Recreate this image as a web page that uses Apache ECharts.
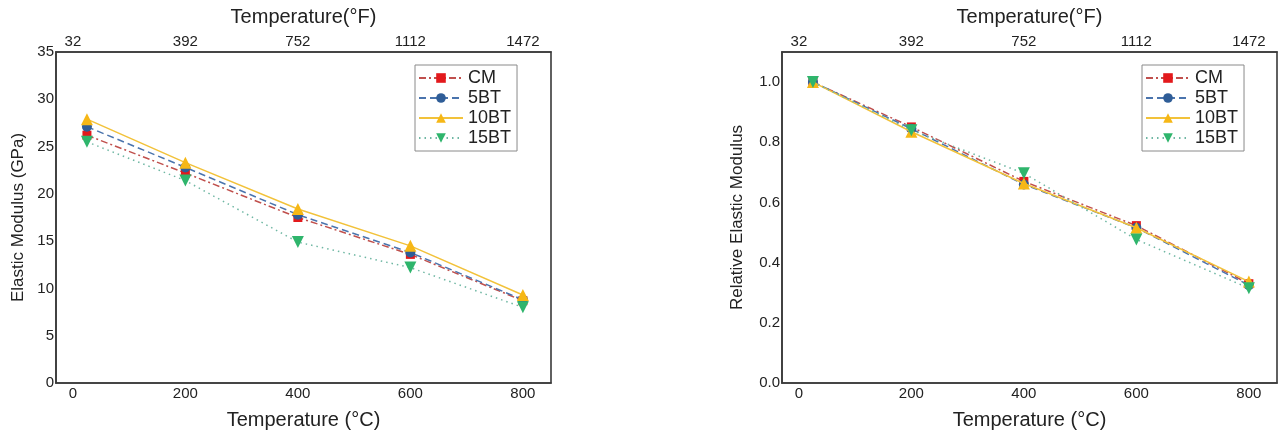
<!DOCTYPE html>
<html>
<head>
<meta charset="utf-8">
<script src="https://cdn.jsdelivr.net/npm/echarts@6/dist/echarts.min.js"></script>
<style>
  html, body { margin: 0; padding: 0; background: #fff; }
  #chart { width: 1280px; height: 435px; }
</style>
</head>
<body>
<div id="chart"></div>
<script>
// Test temperatures (°C) and tick positions
const temperaturesC = [25, 200, 400, 600, 800];
const tickC = [0, 200, 400, 600, 800];
const seriesNames = ['CM', '5BT', '10BT', '15BT'];

// Elastic modulus (GPa)
const modulusCM   = [26.2, 22.2, 17.5, 13.6, 8.7];
const modulus5BT  = [27.1, 22.8, 17.8, 13.8, 8.8];
const modulus10BT = [27.9, 23.3, 18.4, 14.5, 9.3];
const modulus15BT = [25.5, 21.4, 14.9, 12.2, 8.0];

// Relative elastic modulus (E / E at room temperature)
const relativeCM   = [1.0, 0.851, 0.670, 0.523, 0.330];
const relative5BT  = [1.0, 0.845, 0.660, 0.516, 0.325];
const relative10BT = [1.0, 0.835, 0.663, 0.516, 0.337];
const relative15BT = [1.0, 0.840, 0.697, 0.477, 0.315];

const relativeTicks = [0, 0.2, 0.4, 0.6, 0.8, 1.0];

const FONT = '"Liberation Sans", Arial, sans-serif';
const AXIS_COLOR = '#3a3a3a';
const TEXT_COLOR = '#222';

const styles = [
  { line: '#c0504d', marker: '#e3191c', symbol: 'rect', size: 9, type: [7, 3, 2, 3] },
  { line: '#4a74ad', marker: '#2f5d97', symbol: 'circle', size: 10, type: [7, 4] },
  { line: '#f2c23a', marker: '#f6b716', symbol: 'triangle', size: 12, type: 'solid' },
  { line: '#6fb7a3', marker: '#2fb56c', symbol: 'path://M0,0 L10,0 L5,9 Z', size: 12, type: [1.5, 4] }
];

const cToF = v => Math.round(v * 1.8 + 32);

function pairs(values) {
  return temperaturesC.map((t, i) => [t, values[i]]);
}

const grids = [
  { left: 56, top: 52, width: 495, height: 336 },
  { left: 782, top: 52, width: 495, height: 336 }
];

function xAxes(gridIndex) {
  const common = {
    gridIndex,
    type: 'value',
    min: -30,
    max: 850,
    splitLine: { show: false },
    axisTick: { show: false },
    axisLine: { show: true, onZero: false, lineStyle: { color: AXIS_COLOR, width: 1.6 } }
  };
  return [
    Object.assign({}, common, {
      position: 'bottom',
      name: 'Temperature (°C)',
      nameLocation: 'middle',
      nameGap: 27,
      nameTextStyle: { fontFamily: FONT, fontSize: 20, color: TEXT_COLOR },
      axisLabel: {
        customValues: tickC,
        margin: 3,
        fontFamily: FONT, fontSize: 15, color: TEXT_COLOR
      }
    }),
    Object.assign({}, common, {
      position: 'top',
      name: 'Temperature(°F)',
      nameLocation: 'middle',
      nameGap: 25,
      nameTextStyle: { fontFamily: FONT, fontSize: 20, color: TEXT_COLOR },
      axisLabel: {
        customValues: tickC,
        margin: 3,
        formatter: v => String(cToF(v)),
        fontFamily: FONT, fontSize: 15, color: TEXT_COLOR
      }
    })
  ];
}

const yAxes = [
  {
    gridIndex: 0,
    type: 'value',
    min: 0, max: 35, interval: 5,
    name: 'Elastic Modulus (GPa)',
    nameLocation: 'middle',
    nameGap: 29,
    nameTextStyle: { fontFamily: FONT, fontSize: 17, color: TEXT_COLOR },
    splitLine: { show: false },
    axisTick: { show: false },
    axisLine: { show: true, onZero: false, lineStyle: { color: AXIS_COLOR, width: 1.6 } },
    axisLabel: { margin: 2, fontFamily: FONT, fontSize: 15, color: TEXT_COLOR }
  },
  {
    gridIndex: 1,
    type: 'value',
    min: 0, max: 1.1,
    name: 'Relative Elastic Modulus',
    nameLocation: 'middle',
    nameGap: 36,
    nameTextStyle: { fontFamily: FONT, fontSize: 17, color: TEXT_COLOR },
    splitLine: { show: false },
    axisTick: { show: false },
    axisLine: { show: true, onZero: false, lineStyle: { color: AXIS_COLOR, width: 1.6 } },
    axisLabel: {
      customValues: relativeTicks,
      margin: 2,
      formatter: v => v.toFixed(1),
      fontFamily: FONT, fontSize: 15, color: TEXT_COLOR
    }
  }
];

function makeSeries(dataSets, xAxisIndex, yAxisIndex) {
  return dataSets.map((values, i) => {
    const s = styles[i];
    return {
      name: seriesNames[i],
      type: 'line',
      xAxisIndex, yAxisIndex,
      data: pairs(values),
      symbol: s.symbol,
      symbolSize: s.size,
      showAllSymbol: true,
      lineStyle: { color: s.line, width: 1.5, type: s.type },
      itemStyle: { color: s.marker },
      emphasis: { disabled: true },
      z: 2 + i
    };
  });
}

function legend(left) {
  return {
    left, top: 65,
    orient: 'vertical',
    data: seriesNames,
    itemWidth: 44,
    itemHeight: 12,
    itemGap: 2,
    padding: [4, 6, 4, 3],
    borderColor: '#8a8a8a',
    borderWidth: 1,
    backgroundColor: '#fff',
    textStyle: { fontFamily: FONT, fontSize: 18, color: TEXT_COLOR }
  };
}

const chart = echarts.init(document.getElementById('chart'), null, { renderer: 'canvas' });
chart.setOption({
  animation: false,
  backgroundColor: '#fff',
  grid: grids.map(g => Object.assign({ show: true, borderColor: AXIS_COLOR, borderWidth: 1.6, backgroundColor: 'transparent' }, g)),
  xAxis: xAxes(0).concat(xAxes(1)),
  yAxis: yAxes,
  legend: [legend(415), legend(1142)],
  series: makeSeries([modulusCM, modulus5BT, modulus10BT, modulus15BT], 0, 0)
    .concat(makeSeries([relativeCM, relative5BT, relative10BT, relative15BT], 2, 1))
});
</script>
</body>
</html>
